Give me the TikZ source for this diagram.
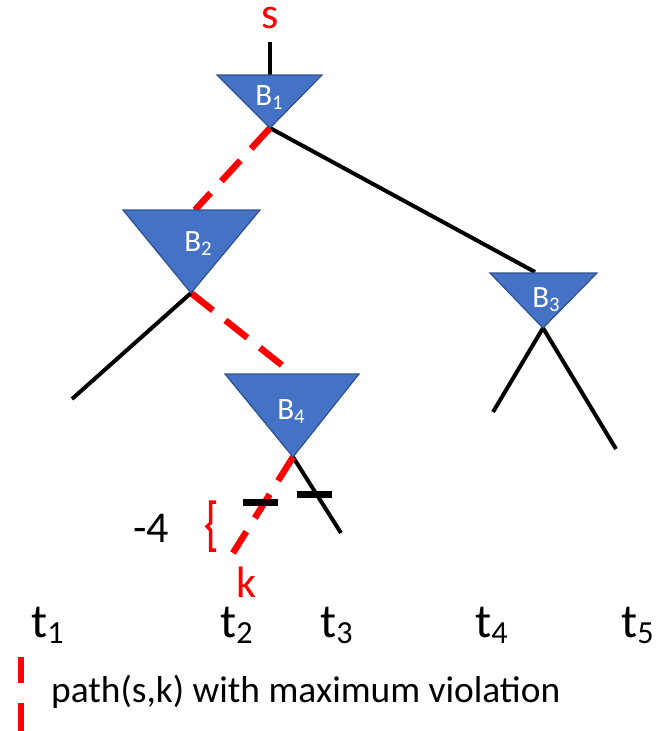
\documentclass[tikz,border=0pt]{standalone}
\usepackage{fontspec}
\usepackage{graphicx}
\setmainfont{Carlito}
\newcommand\mysub[1]{\raisebox{-0.13em}{\scalebox{0.67}{#1}}}
\definecolor{triblue}{HTML}{4472C4}
\definecolor{triedge}{HTML}{2F528F}
\definecolor{pathred}{HTML}{FF0000}
\tikzset{
  tri/.style={fill=triblue, draw=triedge, line width=1.2pt, line join=miter},
  edge/.style={line width=4pt, black},
  redpath/.style={line width=6.5pt, pathred, dash pattern=on 28pt off 16pt},
  cutbar/.style={line width=7pt, black},
  blab/.style={text=white, font=\fontsize{31}{36}\selectfont, inner sep=0pt},
  tlab/.style={font=\fontsize{48}{56}\selectfont, inner sep=0pt, anchor=base west},
  redlab/.style={text=pathred, font=\fontsize{44}{50}\selectfont, inner sep=0pt},
  leg/.style={font=\fontsize{37.4}{44}\selectfont, inner sep=0pt, anchor=base west},
}
\begin{document}
\begin{tikzpicture}[x=1pt,y=-1pt]
\useasboundingbox (0,0) rectangle (667,731);
% triangle corners
\coordinate (b1l) at (217,75); \coordinate (b1r) at (322,75); \coordinate (b1a) at (270,128);
\coordinate (b2l) at (123,210); \coordinate (b2r) at (260,210); \coordinate (b2a) at (191,293);
\coordinate (b3l) at (490,273); \coordinate (b3r) at (597,273); \coordinate (b3a) at (543,328);
\coordinate (b4l) at (225,374); \coordinate (b4r) at (359,374); \coordinate (b4a) at (293,457);
% endpoints
\coordinate (stop) at (270,42);
\coordinate (b1in) at (270,75);
\coordinate (b2in) at (195,210);
\coordinate (b3in) at (535,272);
\coordinate (b4in) at (293,374);
\coordinate (l1) at (72,399);
\coordinate (l3) at (341,533);
\coordinate (l4) at (493,412);
\coordinate (l5) at (616,449);
\coordinate (kend) at (233,553);
% edges behind triangles
\draw[edge] (stop) -- (b1in);
\draw[edge] (b1a) -- (b3in);
\draw[redpath] (b1a) -- (b2in);
\draw[redpath] (b2a) -- (b4in);
\draw[edge] (b2a) -- (l1);
\draw[edge] (b3a) -- (l4);
\draw[edge] (b3a) -- (l5);
\draw[edge] (b4a) -- (l3);
\draw[redpath] (b4a) -- (kend);
% triangles
\draw[tri] (b1l) -- (b1r) -- (b1a) -- cycle;
\draw[tri] (b2l) -- (b2r) -- (b2a) -- cycle;
\draw[tri] (b3l) -- (b3r) -- (b3a) -- cycle;
\draw[tri] (b4l) -- (b4r) -- (b4a) -- cycle;
\node[blab] (B1) at (269,98) {B\mysub{1}};
\node[blab] (B2) at (198,244) {B\mysub{2}};
\node[blab] (B3) at (546,300) {B\mysub{3}};
\node[blab] (B4) at (291,412) {B\mysub{4}};
% cut bars
\coordinate (c1a) at (243,502); \coordinate (c1b) at (278,502);
\coordinate (c2a) at (297,494); \coordinate (c2b) at (332,494);
\draw[cutbar] (c1a) -- (c1b);
\draw[cutbar] (c2a) -- (c2b);
% brace
\draw[pathred, line width=3.5pt, line join=miter]
  (216,502) -- (210.5,502) -- (210.5,523) -- (207,526.5) -- (210.5,530) -- (210.5,550) -- (216,550);
% labels
\node[redlab, anchor=base, text height=20pt, text depth=0pt] (s) at (270,28) {s};
\node[font=\fontsize{44}{50}\selectfont, inner sep=0pt] (m4) at (151,528) {-4};
\node[redlab, anchor=base west] (k) at (236,597) {k};
\node[tlab] (t1) at (31,637) {t\mysub{1}};
\node[tlab] (t2) at (220,637) {t\mysub{2}};
\node[tlab] (t3) at (320,637) {t\mysub{3}};
\node[tlab] (t4) at (475,637) {t\mysub{4}};
\node[tlab] (t5) at (621,637) {t\mysub{5}};
% legend
\coordinate (lg1) at (21,657); \coordinate (lg2) at (21,683);
\coordinate (lg3) at (21,703); \coordinate (lg4) at (21,731);
\draw[line width=6pt, pathred] (lg1) -- (lg2);
\draw[line width=6pt, pathred] (lg3) -- (lg4);
\node[leg] (legend) at (51,702) {path(s,k) with maximum violation};
\end{tikzpicture}
\end{document}
